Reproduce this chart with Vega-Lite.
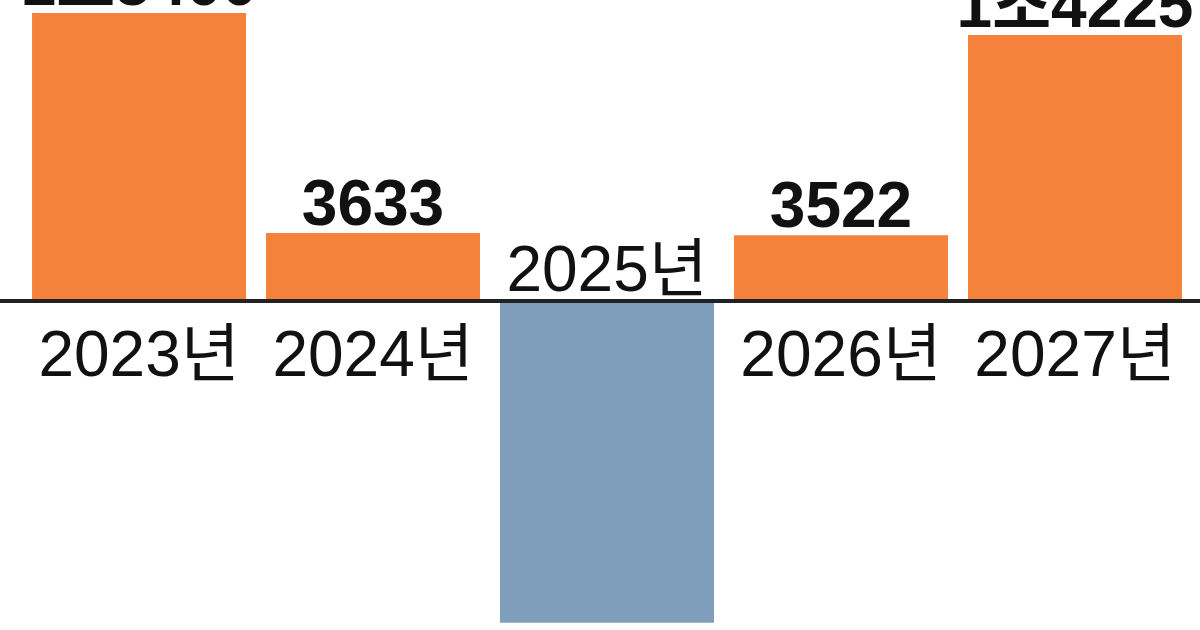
{
  "$schema": "https://vega.github.io/schema/vega-lite/v6.json",
  "width": 1200,
  "height": 630,
  "autosize": {"type": "none"},
  "padding": 0,
  "background": "white",
  "config": {"view": {"stroke": null}},
  "data": {"values": [
    {"year": "2023년", "value": 15400, "label": "1조5400"},
    {"year": "2024년", "value": 3633, "label": "3633"},
    {"year": "2025년", "value": -17200, "label": "-1조7200"},
    {"year": "2026년", "value": 3522, "label": "3522"},
    {"year": "2027년", "value": 14225, "label": "1조4225"}
  ]},
  "layer": [
    {
      "mark": {"type": "bar", "clip": false},
      "encoding": {
        "x": {"field": "year", "type": "nominal", "sort": null, "axis": null,
              "scale": {"paddingInner": 0.0855, "paddingOuter": 0.107, "align": 0.64}},
        "y": {"field": "value", "type": "quantitative", "axis": null,
              "scale": {"domain": [-17594, 16096], "nice": false, "zero": false}},
        "color": {"condition": {"test": "datum.value < 0", "value": "#7F9EBB"}, "value": "#F4823B"}
      }
    },
    {
      "data": {"values": [{}]},
      "mark": {"type": "rule", "color": "#222222", "strokeWidth": 4},
      "encoding": {"y": {"datum": 0, "type": "quantitative"}}
    },
    {
      "transform": [{"filter": "datum.value > 0"}],
      "mark": {"type": "text", "baseline": "alphabetic", "dy": -8, "font": "Liberation Sans, Noto Sans CJK KR, sans-serif", "fontWeight": "bold", "fontSize": 64, "color": "#111111"},
      "encoding": {
        "x": {"field": "year", "type": "nominal", "sort": null},
        "y": {"field": "value", "type": "quantitative"},
        "text": {"field": "label"}
      }
    },
    {
      "transform": [{"filter": "datum.value < 0"}],
      "mark": {"type": "text", "baseline": "top", "dy": 6, "font": "Liberation Sans, Noto Sans CJK KR, sans-serif", "fontWeight": "bold", "fontSize": 64, "color": "#111111"},
      "encoding": {
        "x": {"field": "year", "type": "nominal", "sort": null},
        "y": {"field": "value", "type": "quantitative"},
        "text": {"field": "label"}
      }
    },
    {
      "transform": [{"filter": "datum.value > 0"}],
      "mark": {"type": "text", "baseline": "alphabetic", "dy": 75, "font": "Liberation Sans, Noto Sans CJK KR, sans-serif", "fontSize": 64, "color": "#111111"},
      "encoding": {
        "x": {"field": "year", "type": "nominal", "sort": null},
        "y": {"datum": 0, "type": "quantitative"},
        "text": {"field": "year"}
      }
    },
    {
      "transform": [{"filter": "datum.value < 0"}],
      "mark": {"type": "text", "baseline": "alphabetic", "dy": -10, "font": "Liberation Sans, Noto Sans CJK KR, sans-serif", "fontSize": 64, "color": "#111111"},
      "encoding": {
        "x": {"field": "year", "type": "nominal", "sort": null},
        "y": {"datum": 0, "type": "quantitative"},
        "text": {"field": "year"}
      }
    }
  ]
}
